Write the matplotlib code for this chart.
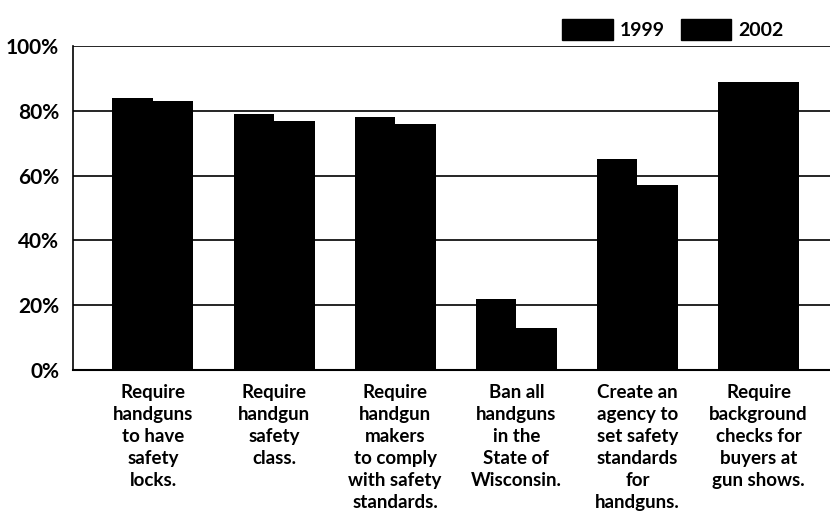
import numpy as np
import matplotlib
matplotlib.use("Agg")
import matplotlib.pyplot as plt
from matplotlib.patches import Patch

plt.rcParams['font.family'] = ['Lato', 'DejaVu Sans']
plt.rcParams['font.weight'] = 'bold'

categories = [
    "Require\nhandguns\nto have\nsafety\nlocks.",
    "Require\nhandgun\nsafety\nclass.",
    "Require\nhandgun\nmakers\nto comply\nwith safety\nstandards.",
    "Ban all\nhandguns\nin the\nState of\nWisconsin.",
    "Create an\nagency to\nset safety\nstandards\nfor\nhandguns.",
    "Require\nbackground\nchecks for\nbuyers at\ngun shows.",
]
series_names = ["1999", "2002"]
vals_1999 = [84, 79, 78, 22, 65, 89]
vals_2002 = [83, 77, 76, 13, 57, 89]
yticks = [0, 20, 40, 60, 80, 100]

fig = plt.figure(figsize=(8.3, 5.12), dpi=100)
ax = fig.add_axes([73/830, (512-370)/512, (830-73)/830, (370-46)/512])

x = np.arange(len(categories))
w = 0.334
ax.bar(x - w/2, vals_1999, w, color='black', zorder=3)
ax.bar(x + w/2, vals_2002, w, color='black', zorder=3)

ax.set_xlim(-0.66, 5.59)
ax.set_ylim(0, 100)
ax.set_yticks(yticks)
ax.set_yticklabels([f"{t}%" for t in yticks], fontsize=15, fontweight='bold')
ax.yaxis.grid(True, color='black', linewidth=1.2, zorder=0)
ax.tick_params(axis='both', length=0)
ax.tick_params(axis='y', pad=10)
ax.set_xticks(x)
ax.set_xticklabels(categories, fontsize=13.5, fontweight='bold', linespacing=1.36)
ax.tick_params(axis='x', pad=10)
for s in ['top', 'right']:
    ax.spines[s].set_visible(False)
ax.spines['left'].set_linewidth(1.2)
ax.spines['bottom'].set_linewidth(1.5)

handles = [Patch(facecolor='black', edgecolor='black', label=n) for n in series_names]
fig.legend(handles=handles, loc='upper right', bbox_to_anchor=(801/830, 1 - 1/512),
           ncol=2, frameon=False, prop={'weight': 'bold', 'size': 14},
           handlelength=2.6, handleheight=1.3, columnspacing=0.85, handletextpad=0.35)

fig.savefig("out.png", dpi=100)
